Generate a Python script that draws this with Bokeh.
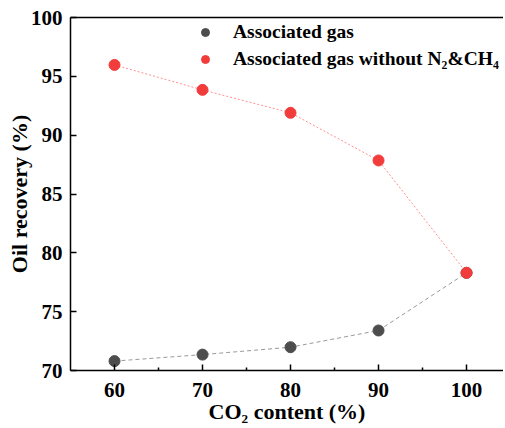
from bokeh.plotting import figure
from bokeh.models import Range1d, LinearAxis, Legend, LegendItem, FixedTicker
from bokeh.embed import file_html
from bokeh.resources import INLINE

co2 = [60, 70, 80, 90, 100]
assoc = [70.8, 71.35, 71.98, 73.4, 78.3]
assoc_wo = [95.97, 93.85, 91.9, 87.85, 78.3]
x_ticks = [60, 70, 80, 90, 100]
y_ticks = [70, 75, 80, 85, 90, 95, 100]

FONT = "Liberation Serif"

p = figure(width=503, height=426, output_backend="svg", toolbar_location=None,
           x_range=Range1d(55, 104.2), y_range=Range1d(70, 100),
           min_border_left=70, min_border_right=0, min_border_top=17, min_border_bottom=51)
p.outline_line_color = None
p.grid.visible = False
p.background_fill_color = "white"

for ax in (p.xaxis[0], p.yaxis[0]):
    ax.axis_line_color = "black"
    ax.axis_line_width = 1.5
    ax.major_tick_line_color = "black"
    ax.major_tick_line_width = 1.5
    ax.minor_tick_line_color = "black"
    ax.minor_tick_line_width = 1.5
    ax.major_tick_in = 6
    ax.major_tick_out = 0
    ax.minor_tick_in = 3
    ax.minor_tick_out = 0
    ax.major_label_text_font = FONT
    ax.major_label_text_font_style = "bold"
    ax.major_label_text_font_size = "21px"
    ax.major_label_text_color = "black"
    ax.axis_label_text_font = FONT
    ax.axis_label_text_font_style = "bold"
    ax.axis_label_text_font_size = "22px"
    ax.axis_label_text_color = "black"

p.xaxis.ticker = FixedTicker(ticks=x_ticks, minor_ticks=[65, 75, 85, 95])
p.yaxis.ticker = FixedTicker(ticks=y_ticks, minor_ticks=[])
p.xaxis.axis_label = "CO\u2082 content (%)"
p.yaxis.axis_label = "Oil recovery (%)"
p.xaxis.major_label_standoff = 12
p.yaxis.major_label_standoff = 8
p.xaxis.axis_label_standoff = -1
p.yaxis.axis_label_standoff = -4

top = LinearAxis(ticker=FixedTicker(ticks=[]), major_label_text_font_size="0px",
                 axis_line_color="black", axis_line_width=1.5,
                 major_tick_line_color=None, minor_tick_line_color=None)
p.add_layout(top, "above")

p.line(co2, assoc, line_color="#9a9a9a", line_width=1, line_dash="4 3")
p.line(co2, assoc_wo, line_color="#ff9090", line_width=1, line_dash="2 2")
r1 = p.scatter(co2, assoc, size=11, fill_color="#4d4d4d", line_color="#4d4d4d")
r2 = p.scatter(co2, assoc_wo, size=11, fill_color="#f23c3c", line_color="#f23c3c")

legend = Legend(items=[LegendItem(label="Associated gas", renderers=[r1]),
                       LegendItem(label="Associated gas without N\u2082&CH\u2084", renderers=[r2])],
                location=(125, 300), padding=0, margin=0, spacing=5,
                glyph_width=20, glyph_height=20, label_standoff=18,
                label_text_font=FONT, label_text_font_style="bold",
                label_text_font_size="19.5px", label_text_color="black",
                border_line_color=None, background_fill_alpha=0)
p.add_layout(legend, "center")

open("out.html", "w").write(file_html(p, INLINE))
